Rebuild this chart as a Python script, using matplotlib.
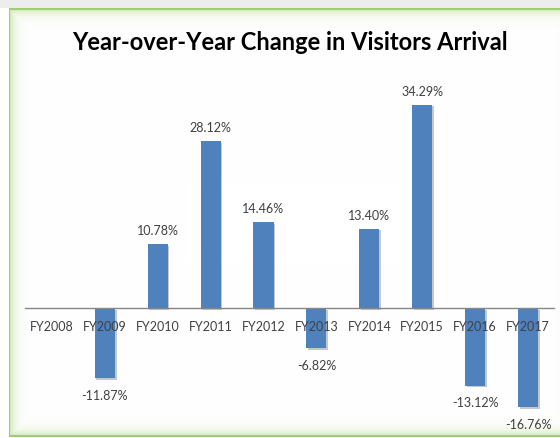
import numpy as np
import matplotlib.pyplot as plt
import matplotlib.patheffects as pe

years = ['FY2008', 'FY2009', 'FY2010', 'FY2011', 'FY2012',
         'FY2013', 'FY2014', 'FY2015', 'FY2016', 'FY2017']
change = [0.0, -11.87, 10.78, 28.12, 14.46, -6.82, 13.40, 34.29, -13.12, -16.76]
title = 'Year-over-Year Change in Visitors Arrival'

W, H = 560, 439
fig = plt.figure(figsize=(W / 100, H / 100), dpi=100)

# background: grey strip on top, green framed box with soft glow
bg = fig.add_axes([0, 0, 1, 1])
bg.axis('off')
yy, xx = np.mgrid[0:H, 0:W] + 0.5
d = np.minimum.reduce([xx - 9.5, yy - 10.0, 437.0 - yy, 575.0 - xx])
img = np.ones((H, W, 3))
green = np.array([0.80, 0.90, 0.68])
glow = np.exp(-np.clip(d, 0, None) / 5.0)[..., None]
inside = d >= 0
img[inside] = (np.ones(3) * (1 - glow) + green * glow)[inside]
img[np.abs(d) < 1.0] = [0.63, 0.80, 0.45]
img[(yy < 9.0)] = [0.93, 0.93, 0.93]
bg.imshow(img, extent=[0, 1, 0, 1], aspect='auto', origin='upper',
          interpolation='nearest')

ax = fig.add_axes([0.0455, 0.026, 0.9446, 0.8105])
ax.patch.set_alpha(0)
x = np.arange(len(years))
bars = ax.bar(x, change, width=0.38, color='#4f81bd', zorder=1)
for b in bars:
    b.set_path_effects([pe.SimplePatchShadow(offset=(1.2, -1.2), alpha=0.25), pe.Normal()])

ax.set_xlim(-0.5, 9.5)
ax.set_ylim(-20, 40)
for s in ['left', 'right', 'top']:
    ax.spines[s].set_visible(False)
ax.spines['bottom'].set_position(('data', 0))
ax.spines['bottom'].set_color('#868686')
ax.spines['bottom'].set_linewidth(1.0)
ax.set_yticks([])
ax.set_xticks(x)
ax.set_xticklabels(years, fontsize=9, color='#404040', family='Lato')
ax.tick_params(axis='x', length=0, pad=8.5)

for xi, v in zip(x, change):
    if v == 0:
        continue
    off = 10 if v > 0 else -12
    ax.annotate(f'{v:.2f}%', (xi, v), xytext=(0, off), textcoords='offset points',
                ha='center', va='center', fontsize=9, color='#404040', family='Lato')

fig.text(0.517, 1 - 42 / H, title, ha='center', va='center',
         fontsize=17, fontweight='bold', family='Lato', color='black')

fig.savefig('out.png', dpi=100)
